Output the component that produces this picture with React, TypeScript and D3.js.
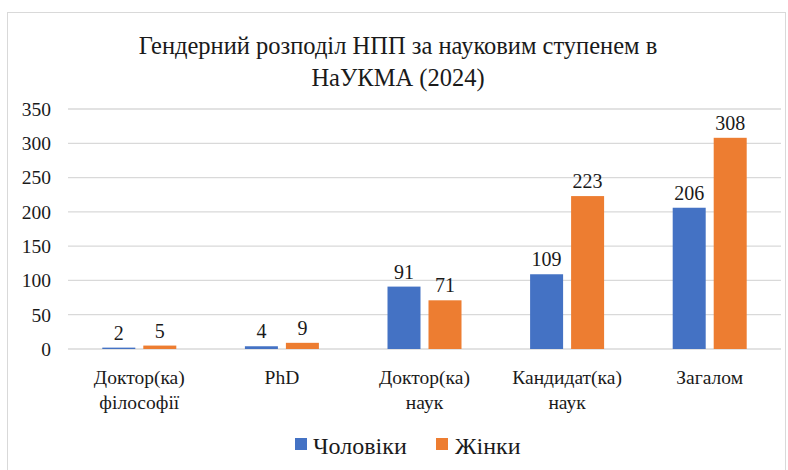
import React from 'react';
import * as d3 from 'd3';

const categories = [
  ['Доктор(ка)', 'філософії'],
  ['PhD'],
  ['Доктор(ка)', 'наук'],
  ['Кандидат(ка)', 'наук'],
  ['Загалом'],
];
const men = [2, 4, 91, 109, 206];
const women = [5, 9, 71, 223, 308];
const seriesNames = ['Чоловіки', 'Жінки'];
const colors = ['#4472C4', '#ED7D31'];
const yTicks = [0, 50, 100, 150, 200, 250, 300, 350];

const W = 788;
const H = 470;
const margin = { top: 109, right: 7, bottom: 121, left: 68 };
const font = "'Liberation Serif', 'DejaVu Serif', serif";

export default function App() {
  const innerW = W - margin.left - margin.right;
  const innerH = H - margin.top - margin.bottom;

  const x = d3.scaleBand<number>()
    .domain(d3.range(categories.length))
    .range([0, innerW]);
  const y = d3.scaleLinear().domain([0, 350]).range([innerH, 0]);

  const barW = 33;
  const gap = 8;
  const series = [men, women];

  return (
    <svg width={W} height={H} style={{ position: 'absolute', left: 0, top: 0, fontFamily: font }}>
      <rect x={7.5} y={12.5} width={W - 10} height={H - 8} fill="white" stroke="#d9d9d9" />
      <text x={398} y={54} textAnchor="middle" fontSize={24.5} fill="#1a1a1a">
        Гендерний розподіл НПП за науковим ступенем в
      </text>
      <text x={398} y={86} textAnchor="middle" fontSize={24.5} fill="#1a1a1a">
        НаУКМА (2024)
      </text>
      <g transform={`translate(${margin.left},${margin.top})`}>
        {yTicks.map(t => (
          <g key={t}>
            <line x1={0} x2={innerW} y1={y(t)} y2={y(t)} stroke="#d9d9d9" strokeWidth={1.3} />
            <text x={-17} y={y(t)} dy="0.35em" textAnchor="end" fontSize={19.5} fill="#1a1a1a">{t}</text>
          </g>
        ))}
        {categories.map((c, i) => {
          const cx = (x(i) as number) + x.bandwidth() / 2;
          return (
            <g key={i}>
              {series.map((s, k) => {
                const bx = k === 0 ? cx - gap / 2 - barW : cx + gap / 2;
                return (
                  <g key={k}>
                    <rect x={bx} y={y(s[i])} width={barW} height={innerH - y(s[i])} fill={colors[k]} />
                    <text x={bx + barW / 2} y={y(s[i]) - 8} textAnchor="middle" fontSize={20} fill="#1a1a1a">{s[i]}</text>
                  </g>
                );
              })}
              {c.map((line, j) => (
                <text key={j} x={cx} y={innerH + 35 + j * 25} textAnchor="middle" fontSize={19.5} fill="#1a1a1a">{line}</text>
              ))}
            </g>
          );
        })}
      </g>
      <g>
        <rect x={295} y={438} width={12} height={12} fill={colors[0]} />
        <text x={313} y={454} fontSize={24} fill="#1a1a1a">{seriesNames[0]}</text>
        <rect x={436} y={438} width={12} height={12} fill={colors[1]} />
        <text x={455} y={454} fontSize={24} fill="#1a1a1a">{seriesNames[1]}</text>
      </g>
    </svg>
  );
}
